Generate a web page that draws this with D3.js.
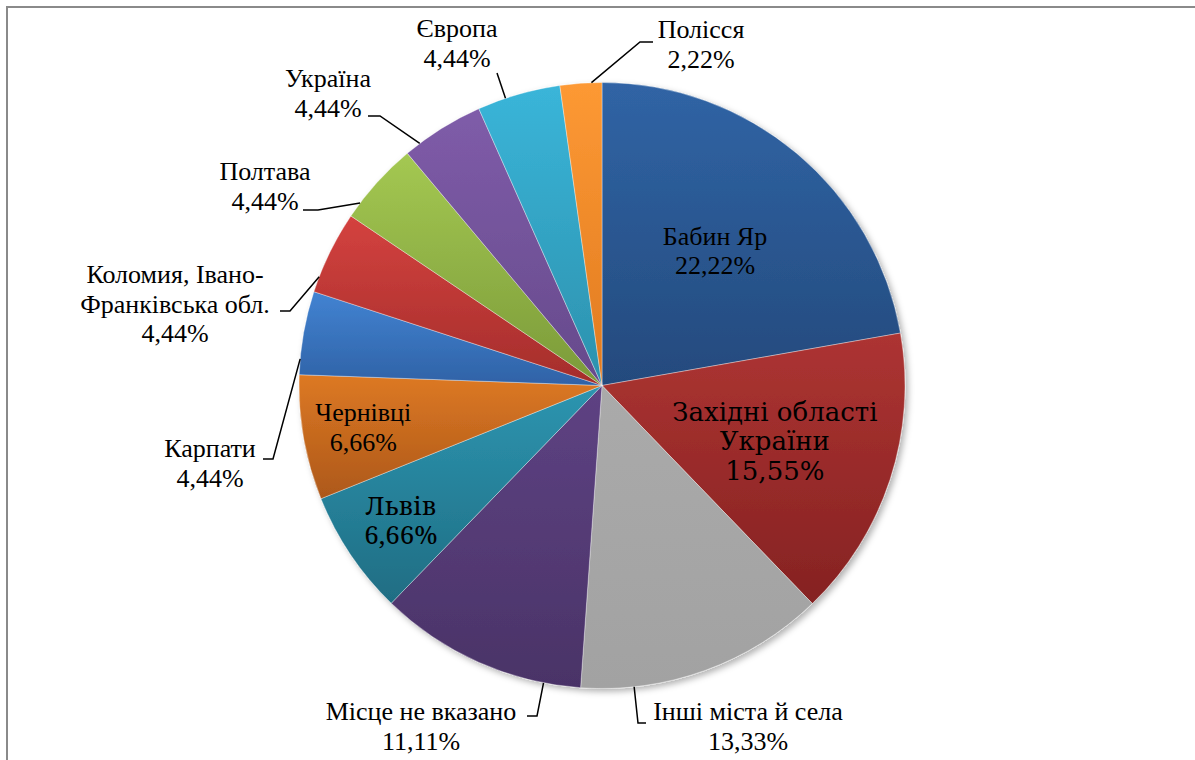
<!DOCTYPE html>
<html lang="uk">
<head>
<meta charset="utf-8">
<script src="https://cdn.jsdelivr.net/npm/d3@7"></script>
<style>
  html, body { margin: 0; background: #fff; }
  #wrap { position: relative; width: 1195px; height: 760px; }
  .html-label { position: absolute; font-family: "Liberation Serif", serif; font-size: 26px; line-height: 29.5px; text-align: center; color: #000; white-space: nowrap; transform: translateX(-50%); }
</style>
</head>
<body>
<div id="wrap"><svg id="chart" width="1195" height="760"></svg></div>
<script>
// Place of origin, share of respondents (%)
const categories = [
  "Бабин Яр",
  "Західні області\nУкраїни",
  "Інші міста й села",
  "Місце не вказано",
  "Львів",
  "Чернівці",
  "Карпати",
  "Коломия, Івано-\nФранківська обл.",
  "Полтава",
  "Україна",
  "Європа",
  "Полісся"
];
const shares = [22.22, 15.55, 13.33, 11.11, 6.66, 6.66, 4.44, 4.44, 4.44, 4.44, 4.44, 2.22];

// Slice fills: lighter tone at the top, darker at the bottom
const topColors = ["#3064a5", "#ad3432", "#aaaaaa", "#5e4283", "#2d95b0", "#dd7924",
                   "#4283d2", "#d4423f", "#a4c852", "#7f5ca9", "#3ab5d9", "#fd9934"];
const bottomColors = ["#244a7d", "#852222", "#a2a2a2", "#4a3367", "#1f6d83", "#ad5819",
                      "#2f62a6", "#a42d2b", "#7b9a39", "#664a8b", "#2c91ad", "#e07a20"];

// Label placement: inside labels sit on the slice's mid-angle at radius k*r;
// outside labels carry their text anchor and the start of the leader line.
const labelLayout = [
  { inside: true, k: 0.58 },
  { inside: true, k: 0.60 },
  { x: 748, y: 720, lead: [[646, 723], [638, 723]] },
  { x: 421, y: 720, lead: [[527, 716], [537, 716]] },
  { inside: true, k: 0.80 },
  { inside: true, k: 0.80 },
  { x: 210, y: 457, lead: [[263, 459], [273, 459]] },
  { x: 175, y: 283, lead: [[280, 311], [290, 311]] },
  { x: 265, y: 180, lead: [[303, 210], [318, 210]] },
  { x: 328, y: 87,  lead: [[368, 116], [380, 116]] },
  { x: 457, y: 37,  lead: [[497, 73], [497, 73]] },
  { x: 701, y: 37,  lead: [[653, 42], [640, 42]] }
];

// How each label's text is rendered
const labelMode = ["svgStart", "dejavu", "svg", "svg", "noto", "svg",
                   "svg", "svg", "svg", "svg", "svg", "html"];

const W = 1195, H = 760;
const cx = 602, cy = 385.5, R = 303;
const fontSize = 26, lineH = 29.5;

const svg = d3.select("#chart");
const defs = svg.append("defs");

// Frame around the chart area
svg.append("rect")
  .attr("x", 7).attr("y", 7)
  .attr("width", W + 20).attr("height", H + 20)
  .attr("fill", "none")
  .attr("stroke", "#8a8a8a")
  .attr("stroke-width", 2);

const shadow = defs.append("filter")
  .attr("id", "pieShadow")
  .attr("x", "-10%").attr("y", "-10%")
  .attr("width", "120%").attr("height", "120%");
shadow.append("feDropShadow")
  .attr("dx", 3).attr("dy", 3)
  .attr("stdDeviation", 3)
  .attr("flood-color", "#000")
  .attr("flood-opacity", 0.3);

categories.forEach((c, i) => {
  const g = defs.append("linearGradient")
    .attr("id", "grad" + i)
    .attr("x1", 0).attr("y1", 0).attr("x2", 0).attr("y2", 1);
  g.append("stop").attr("offset", "0%").attr("stop-color", topColors[i]);
  g.append("stop").attr("offset", "100%").attr("stop-color", bottomColors[i]);
});

const data = categories.map((name, i) => ({ name, value: shares[i], i }));

const pie = d3.pie()
  .value(d => d.value)
  .sort(null);

const arcs = pie(data);
const arc = d3.arc().innerRadius(0).outerRadius(R);

const pieG = svg.append("g")
  .attr("transform", `translate(${cx},${cy})`)
  .attr("filter", "url(#pieShadow)");

pieG.selectAll("path.slice")
  .data(arcs)
  .join("path")
  .attr("class", "slice")
  .attr("d", arc)
  .attr("fill", d => `url(#grad${d.index})`)
  .attr("stroke", "rgba(255,255,255,0.45)")
  .attr("stroke-width", 0.8);

const fmt = v => d3.format(".2f")(v).replace(".", ",") + "%";

// Point on the slice's rim closest in angle to a given page point
function rimPoint(d, px, py) {
  let a = Math.atan2(px - cx, -(py - cy));
  while (a < d.startAngle - Math.PI) a += 2 * Math.PI;
  while (a > d.endAngle + Math.PI) a -= 2 * Math.PI;
  const m = Math.min(3 * Math.PI / 180, (d.endAngle - d.startAngle) / 4);
  a = Math.max(d.startAngle + m, Math.min(d.endAngle - m, a));
  return [cx + R * Math.sin(a), cy - R * Math.cos(a)];
}

const leaderG = svg.append("g")
  .attr("fill", "none")
  .attr("stroke", "#000")
  .attr("stroke-width", 1.5);

const wrap = d3.select("#wrap");

arcs.forEach(d => {
  const lay = labelLayout[d.index];
  const mode = labelMode[d.index];
  const lines = d.data.name.split("\n").concat([fmt(d.data.value)]);
  let x, y0;
  if (lay.inside) {
    const mid = (d.startAngle + d.endAngle) / 2;
    x = cx + lay.k * R * Math.sin(mid);
    const yc = cy - lay.k * R * Math.cos(mid);
    y0 = yc - (lines.length - 1) * lineH / 2 + fontSize * 0.33;
  } else {
    x = lay.x;
    y0 = lay.y;
    const [p0, p1] = lay.lead;
    const end = rimPoint(d, p1[0], p1[1]);
    leaderG.append("path")
      .attr("d", d3.line()([p0, p1, end]));
  }
  if (mode === "html") {
    wrap.append("div")
      .attr("class", "html-label")
      .style("left", x + "px")
      .style("top", (y0 - 22) + "px")
      .html(lines.join("<br>"));
    return;
  }
  lines.forEach((ln, k) => {
    const t = svg.append("text")
      .attr("x", x)
      .attr("y", y0 + k * lineH)
      .attr("font-size", fontSize)
      .text(ln);
    if (mode === "dejavu") t.style("font-family", '"DejaVu Serif"');
    else if (mode === "noto") t.style("font-family", '"Noto Serif"');
    else t.style("font-family", '"Liberation Serif"');
    if (mode === "svgStart") {
      const w = t.node().getComputedTextLength();
      t.attr("x", x - w / 2);
    } else {
      t.attr("text-anchor", "middle");
    }
  });
});
</script>
</body>
</html>
